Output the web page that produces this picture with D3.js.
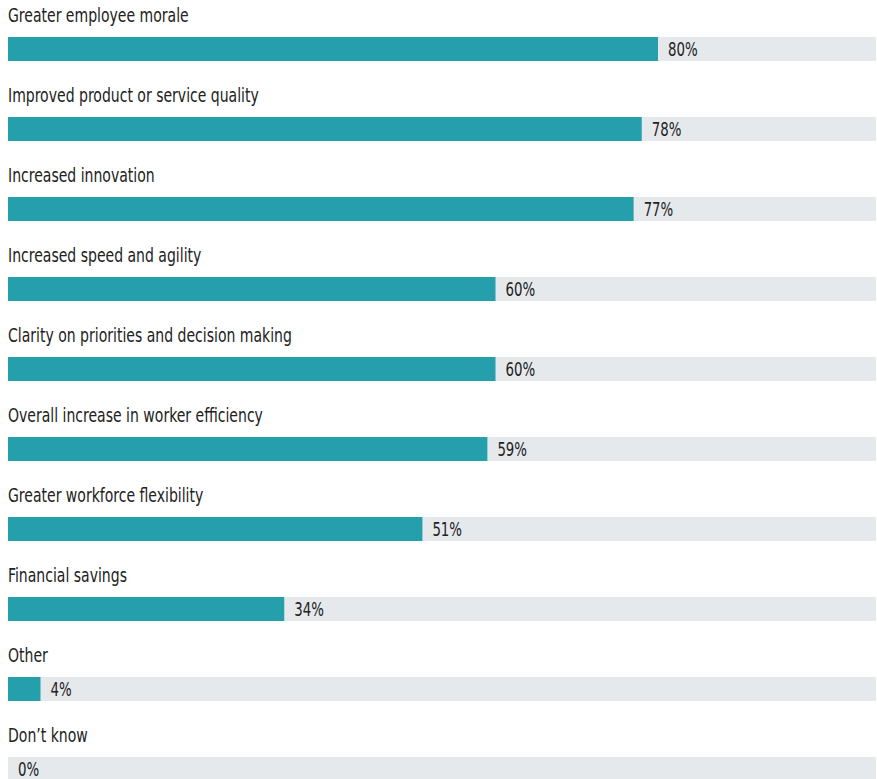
<!DOCTYPE html>
<html>
<head>
<meta charset="utf-8">
<script src="https://cdn.jsdelivr.net/npm/d3@7"></script>
<style>
  body { margin: 0; background: #fff; }
  text { font-family: "DejaVu Sans", sans-serif; font-stretch: condensed; fill: #222; }
</style>
</head>
<body>
<div id="chart"></div>
<script>
const categories = [
  "Greater employee morale",
  "Improved product or service quality",
  "Increased innovation",
  "Increased speed and agility",
  "Clarity on priorities and decision making",
  "Overall increase in worker efficiency",
  "Greater workforce flexibility",
  "Financial savings",
  "Other",
  "Don\u2019t know",
];
const values = [80, 78, 77, 60, 60, 59, 51, 34, 4, 0];

const width = 877;
const height = 779;
const margin = { top: 37, left: 8, right: 1 };
const barHeight = 24;
const rowStep = 80;
// the source uses a narrow grotesque; squeeze the fallback face horizontally
const squeeze = 0.78;

const svg = d3
  .select("#chart")
  .append("svg")
  .attr("width", width)
  .attr("height", height);

const x = d3.scaleLinear().domain([0, 100]).range([margin.left, margin.left + 812.5]);
const y = d3
  .scaleBand()
  .domain(categories)
  .range([margin.top, margin.top + rowStep * categories.length]);

const rows = svg
  .selectAll("g.row")
  .data(categories.map((c, i) => ({ name: c, value: values[i] })))
  .join("g")
  .attr("class", "row")
  .attr("transform", (d) => `translate(0, ${y(d.name)})`);

// background track
rows
  .append("rect")
  .attr("x", margin.left)
  .attr("width", width - margin.right - margin.left)
  .attr("height", barHeight)
  .attr("fill", "#e6e9ec");

rows
  .append("rect")
  .attr("x", x(0))
  .attr("width", (d) => x(d.value) - x(0))
  .attr("height", barHeight)
  .attr("fill", "#249fab");

rows
  .append("text")
  .attr("transform", `translate(${margin.left}, -15) scale(${squeeze}, 1)`)
  .attr("font-size", 20)
  .text((d) => d.name);

rows
  .append("text")
  .attr("transform", (d) => `translate(${x(d.value) + 10}, ${barHeight / 2 + 7}) scale(${squeeze}, 1)`)
  .attr("font-size", 19)
  .text((d) => `${d.value}%`);
</script>
</body>
</html>
